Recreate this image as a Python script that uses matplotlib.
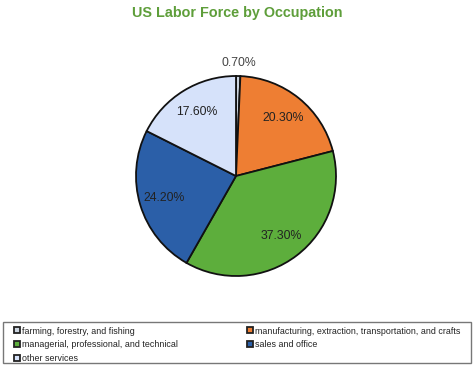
import matplotlib
matplotlib.use("Agg")
import matplotlib.pyplot as plt
from matplotlib.lines import Line2D
from matplotlib.patches import Rectangle
import numpy as np

categories = ["farming, forestry, and fishing",
              "manufacturing, extraction, transportation, and crafts",
              "managerial, professional, and technical",
              "sales and office",
              "other services"]
values = [0.7, 20.3, 37.3, 24.2, 17.6]
colors = ["#CBD4DF", "#EE7E33", "#5DAE3C", "#2B5FA8", "#D6E2FA"]
title = "US Labor Force by Occupation"

plt.rcParams['font.family'] = ['Liberation Sans', 'DejaVu Sans']

fig = plt.figure(figsize=(4.74, 3.66), dpi=100)
fig.patch.set_facecolor('white')

W, H = 474, 366
cx, cy, r = 236, 176, 100
ax = fig.add_axes([(cx - r) / W, (H - cy - r) / H, 2 * r / W, 2 * r / H])
_it = iter(values)
wedges, texts, autotexts = ax.pie(values, colors=colors, startangle=90, counterclock=False,
                                  autopct=lambda p: f"{next(_it):.2f}%", pctdistance=0.75,
                                  wedgeprops=dict(edgecolor='#111111', linewidth=1.3),
                                  textprops=dict(fontsize=8.8, color='#222222'))
# move smallest slice label outside
theta = np.deg2rad(90 - values[0] / sum(values) * 360 / 2)
autotexts[0].set_position((1.13 * np.cos(theta), 1.13 * np.sin(theta)))
autotexts[0].set_color('#444444')
ax.set_xlim(-1, 1)
ax.set_ylim(-1, 1)
ax.set_aspect('equal')
ax.axis('off')

fig.text(237 / W, 1 - 13 / H, title, ha='center', va='center', fontsize=10.4,
         fontweight='bold', color='#5E9E3A')

# legend frame
fig.patches.append(Rectangle((3 / W, 3 / H), 468 / W, 41 / H, transform=fig.transFigure,
                             facecolor='white', edgecolor='#777777', linewidth=1.0))

order = [0, 2, 4, 1, 3]
handles = [Line2D([], [], linestyle='none', marker='s', markersize=4.0,
                  markerfacecolor=colors[i], markeredgecolor='#222222',
                  markeredgewidth=1.3) for i in order]
labels = [categories[i] for i in order]
leg = fig.legend(handles, labels, ncol=2, loc='upper left',
                 bbox_to_anchor=(14.5 / W, (H - 326.5) / H),
                 fontsize=6.4, frameon=False, handlelength=0.5,
                 handletextpad=0.3, borderaxespad=0, labelspacing=0.55,
                 borderpad=0, columnspacing=7.9)
for t in leg.get_texts():
    t.set_color('#222222')

fig.savefig("out.png", dpi=100, facecolor='white')
